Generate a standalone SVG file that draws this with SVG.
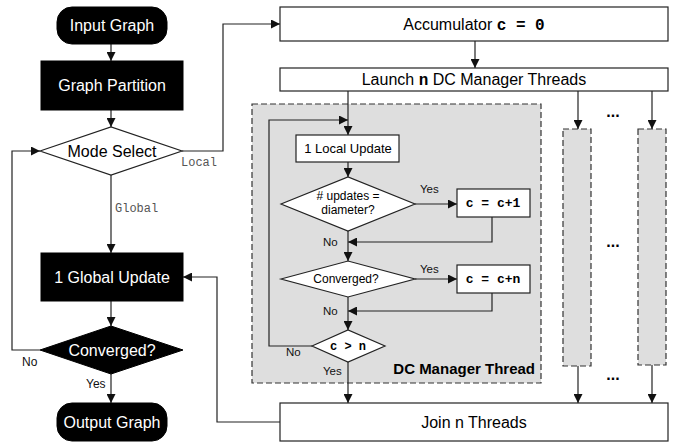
<svg xmlns="http://www.w3.org/2000/svg" width="683" height="443" viewBox="0 0 683 443">
<defs>
<marker id="ah" viewBox="0 0 10 10" refX="10" refY="5" markerWidth="9" markerHeight="9" markerUnits="userSpaceOnUse" orient="auto">
<path d="M0,0 L10,5 L0,10 z" fill="#111"/>
</marker>
</defs>
<style>
.t{font-family:"Liberation Sans",Arial,sans-serif;text-anchor:middle}
.w{fill:#fff}
.big{font-size:16px}
.sm{font-size:12px}
.lbl{font-family:"Liberation Sans",Arial,sans-serif;font-size:11.5px;fill:#111}
.mono{font-family:"Liberation Mono","Courier New",monospace;font-weight:bold}
.ml{font-family:"Liberation Mono","Courier New",monospace;font-size:12px;fill:#555}
.blk{fill:#000;stroke:#000}
.wb{fill:#fff;stroke:#222;stroke-width:1.2}
.dash{fill:#dedede;stroke:#333;stroke-width:1.2;stroke-dasharray:6,3}
.c{fill:none;stroke:#222;stroke-width:1.2}
.ca{fill:none;stroke:#222;stroke-width:1.2;marker-end:url(#ah)}
.dots{font-family:"Liberation Sans",Arial,sans-serif;font-weight:bold;font-size:16px;text-anchor:middle;fill:#000}
</style>

<g id="dc-manager-box">
<rect class="dash" x="252" y="104" width="289" height="279"/>
<text x="535" y="374" style="font-family:'Liberation Sans',Arial,sans-serif;font-weight:bold;font-size:15px;text-anchor:end" fill="#000">DC Manager Thread</text>
</g>
<g id="thread2"><rect class="dash" x="563" y="129" width="28" height="237"/></g>
<g id="thread3"><rect class="dash" x="638" y="129" width="28" height="236"/></g>

<g id="connectors">
<line class="ca" x1="111" y1="44" x2="111" y2="61"/>
<line class="ca" x1="111" y1="110" x2="111" y2="127"/>
<polyline class="ca" points="182,151 223,151 223,24 280,24"/>
<line class="ca" x1="111" y1="175" x2="111" y2="253"/>
<line class="ca" x1="111" y1="301" x2="111" y2="326"/>
<polyline class="ca" points="40,350 12,350 12,151 40,151"/>
<line class="ca" x1="111" y1="374" x2="111" y2="403"/>
<polyline class="ca" points="280,422 217,422 217,277 183,277"/>
<line class="ca" x1="475" y1="41" x2="475" y2="68"/>
<line class="ca" x1="348" y1="91" x2="348" y2="135"/>
<line class="ca" x1="578" y1="91" x2="578" y2="129"/>
<line class="ca" x1="652" y1="91" x2="652" y2="129"/>
<line class="ca" x1="578" y1="366" x2="578" y2="403"/>
<line class="ca" x1="652" y1="365" x2="652" y2="403"/>
<line class="ca" x1="348" y1="162" x2="348" y2="177"/>
<line class="ca" x1="415" y1="204" x2="457" y2="204"/>
<polyline class="ca" points="492,217 492,242 348,242"/>
<line class="ca" x1="348" y1="231" x2="348" y2="261"/>
<line class="ca" x1="415" y1="279" x2="457" y2="279"/>
<polyline class="ca" points="492,293 492,311 348,311"/>
<line class="ca" x1="348" y1="297" x2="348" y2="330"/>
<polyline class="ca" points="312,346 269,346 269,120 348,120"/>
<line class="ca" x1="348" y1="362" x2="348" y2="403"/>
<text class="ml" x="181" y="166">Local</text>
<text class="ml" x="115" y="212">Global</text>
<text class="lbl" x="22" y="366" style="font-size:12px">No</text>
<text class="lbl" x="86" y="388" style="font-size:12px">Yes</text>
<text class="lbl" x="420" y="193">Yes</text>
<text class="lbl" x="420" y="273">Yes</text>
<text class="lbl" x="323" y="246">No</text>
<text class="lbl" x="323" y="315">No</text>
<text class="lbl" x="286" y="356">No</text>
<text class="lbl" x="323" y="375">Yes</text>
</g>

<g id="input-graph">
<rect class="blk" x="57" y="7" width="110" height="37" rx="15"/>
<text class="t w big" x="112" y="31">Input Graph</text>
</g>
<g id="graph-partition">
<rect class="blk" x="41" y="61" width="142" height="49"/>
<text class="t w big" x="112" y="91">Graph Partition</text>
</g>
<g id="mode-select">
<polygon class="wb" points="40,151 111,127 182,151 111,175"/>
<text class="t big" x="112" y="157" fill="#000">Mode Select</text>
</g>
<g id="global-update">
<rect class="blk" x="41" y="253" width="142" height="48"/>
<text class="t w big" x="112" y="283">1 Global Update</text>
</g>
<g id="converged-main">
<polygon class="blk" points="40,350 111,326 183,350 111,374"/>
<text class="t w big" x="112" y="356">Converged?</text>
</g>
<g id="output-graph">
<rect class="blk" x="57" y="403" width="110" height="38" rx="15"/>
<text class="t w big" x="112" y="428">Output Graph</text>
</g>

<g id="accumulator">
<rect class="wb" x="280" y="7" width="388" height="34"/>
<text class="t big" x="474" y="30" fill="#000">Accumulator <tspan class="mono">c = 0</tspan></text>
</g>
<g id="launch">
<rect class="wb" x="280" y="68" width="388" height="23"/>
<text class="t big" x="474" y="85" fill="#000">Launch <tspan class="mono">n</tspan> DC Manager Threads</text>
</g>
<g id="local-update">
<rect class="wb" x="296" y="135" width="103" height="27"/>
<text class="t" x="348" y="153" style="font-size:13px" fill="#000">1 Local Update</text>
</g>
<g id="updates-diameter">
<polygon class="wb" points="281,204 348,177 415,204 348,231"/>
<text class="t sm" x="348" y="200" fill="#000"># updates  =</text>
<text class="t sm" x="348" y="214" fill="#000">diameter?</text>
</g>
<g id="c-plus-1">
<rect class="wb" x="457" y="189" width="73" height="28"/>
<text class="t mono" x="493" y="207" style="font-size:13px" fill="#000">c = c+1</text>
</g>
<g id="converged-local">
<polygon class="wb" points="281,279 348,261 415,279 348,297"/>
<text class="t sm" x="346" y="283" fill="#000">Converged?</text>
</g>
<g id="c-plus-n">
<rect class="wb" x="457" y="265" width="73" height="28"/>
<text class="t mono" x="493" y="283" style="font-size:13px" fill="#000">c = c+n</text>
</g>
<g id="c-gt-n">
<polygon class="wb" points="312,346 348,330 385,346 348,362"/>
<text class="t mono" x="348" y="350" style="font-size:12px" fill="#000">c &gt; n</text>
</g>
<g id="join">
<rect class="wb" x="280" y="403" width="388" height="38"/>
<text class="t big" x="474" y="428" fill="#000">Join n Threads</text>
</g>
<g id="ellipses">
<text class="dots" x="613" y="117">...</text>
<text class="dots" x="613" y="247">...</text>
<text class="dots" x="613" y="380">...</text>
</g>
</svg>
